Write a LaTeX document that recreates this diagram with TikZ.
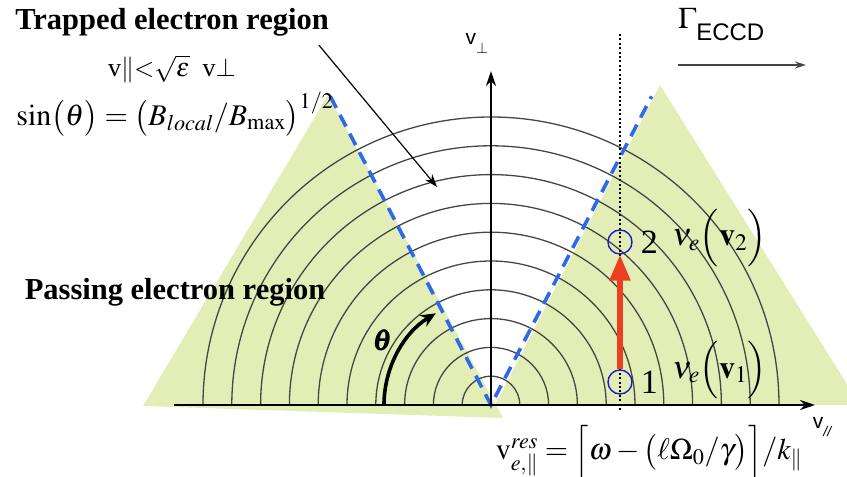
\documentclass[tikz,border=0pt]{standalone}
\usepackage{amsmath}
\usepackage{mathptmx}
\usepackage{fontspec}
\setmainfont{Liberation Serif}
\setsansfont{Liberation Sans}
\usetikzlibrary{arrows.meta,positioning}
\definecolor{coneGreen}{RGB}{226,238,182}
\definecolor{coneBlue}{RGB}{45,105,235}
\definecolor{heatRed}{RGB}{238,62,32}
\definecolor{ringBlue}{RGB}{30,30,190}
\definecolor{ringGray}{RGB}{70,70,70}

\begin{document}
\begin{tikzpicture}[x=1pt,y=1pt,
  ring/.style={ringGray, line width=1.3pt},
  axis/.style={line width=2.8pt, -{Stealth[length=15pt,width=10pt]}},
  cone/.style={coneBlue, line width=3.6pt, dash pattern=on 13pt off 8pt},
  region/.style={font=\fontsize{30.5}{36}\selectfont\bfseries, inner sep=0pt},
  eqn/.style={font=\fontsize{30}{34}\selectfont, inner sep=0pt},
  state/.style={circle, draw=ringBlue, line width=1.4pt, minimum size=24pt, inner sep=0pt},
  pointer/.style={line width=1.2pt, -{Stealth[length=13pt,width=9pt]}}]
  \def\dR{28.8}
  \useasboundingbox (-491,-72) rectangle (356,405);
  % Green cones
  \fill[coneGreen] (-348,-1) -- (-163,310) -- (12,-13) -- cycle;
  \fill[coneGreen] (4,0) -- (169,320) -- (369,0) -- cycle;
  % Energy rings
  \foreach \k [evaluate=\k as \r using \k*\dR] in {1,...,10}
    \draw[ring] (\r,0) arc[start angle=0, end angle=180, radius=\r pt];
  % Trapped/passing boundary
  \draw[cone] (117.5:348) -- (0,0) -- (62.5:348);
  % Axes
  \draw[axis] (-317,0) -- (324,0);
  \draw[axis] (0,0) -- (0,334);
  \node[font=\sffamily\fontsize{21}{22}\selectfont, inner sep=0pt] (vperp) at (-14,362)
    {v\raisebox{-9pt}{$\scriptstyle\perp$}};
  \node[font=\sffamily\fontsize{21}{22}\selectfont, inner sep=0pt] (vpar) at (331,-22)
    {v\raisebox{-8pt}{\itshape\fontsize{14}{14}\selectfont //}};
  % Resonance line
  \draw[line width=2pt, dash pattern=on 2pt off 2.4pt] (129,-5) -- (129,372);
  \node[state] (p1) at (129,23) {};
  \node[state] (p2) at (129,163) {};
  \draw[heatRed, line width=5.5pt, -{Triangle[length=26pt,width=20pt]}] (p1.north) -- (p2.south);
  \node[font=\fontsize{34}{36}\selectfont, inner sep=0pt, right=8pt of p2] (n2) {2};
  \node[font=\fontsize{32}{36}\selectfont, inner sep=0pt, right=14pt of n2, yshift=4pt] (nu2)
    {$\nu_e\Bigl(\mathbf{v}_2\Bigr)$};
  \node[font=\fontsize{34}{36}\selectfont, inner sep=0pt, right=8pt of p1] (n1) {1};
  \node[font=\fontsize{32}{36}\selectfont, inner sep=0pt, right=14pt of n1, yshift=12pt] (nu1)
    {$\nu_e\Bigl(\mathbf{v}_1\Bigr)$};
  % Pitch angle
  \draw[line width=3.6pt, -{Stealth[length=15pt,width=13pt]}]
    (-107,0) arc[start angle=180, end angle=121, radius=107pt];
  \node[font=\fontsize{29}{30}\selectfont, inner sep=0pt] (theta) at (-108,65) {$\pmb{\theta}$};
  % Labels
  \node[region] (trap) at (-319,383) {Trapped electron region};
  \coordinate (trapTip) at (-54,218);
  \draw[pointer] ([xshift=-10pt,yshift=-9pt]trap.south east) -- (trapTip);
  \node[font=\fontsize{26}{30}\selectfont, inner sep=0pt] (cond) at (-319,336)
    {v$\|$$<$$\sqrt{\varepsilon}$\ \ v$\perp$};
  \node[eqn] (sineq) at (-316,291)
    {$\sin\bigl(\theta\bigr)=\bigl(B_{local}/B_{\max}\bigr)^{1/2}$};
  \node[region] (pass) at (-316,113) {Passing electron region};
  \node[eqn] (reseq) at (158,-47)
    {$\mathrm{v}^{res}_{e,\|}=\Bigl[\omega-\bigl(\ell\Omega_0/\gamma\bigr)\Bigr]/k_{\|}$};
  % Current drive direction
  \node[inner sep=0pt, anchor=west] (gamma) at (187,380)
    {\fontsize{30}{30}\selectfont$\Gamma$\raisebox{-12pt}{\sffamily\fontsize{24}{24}\selectfont ECCD}};
  \coordinate (gFrom) at (187,340);
  \coordinate (gTo) at (315,340);
  \draw[ringGray, line width=1.6pt, -{Stealth[length=11pt,width=7pt]}] (gFrom) -- (gTo);
\end{tikzpicture}
\end{document}
